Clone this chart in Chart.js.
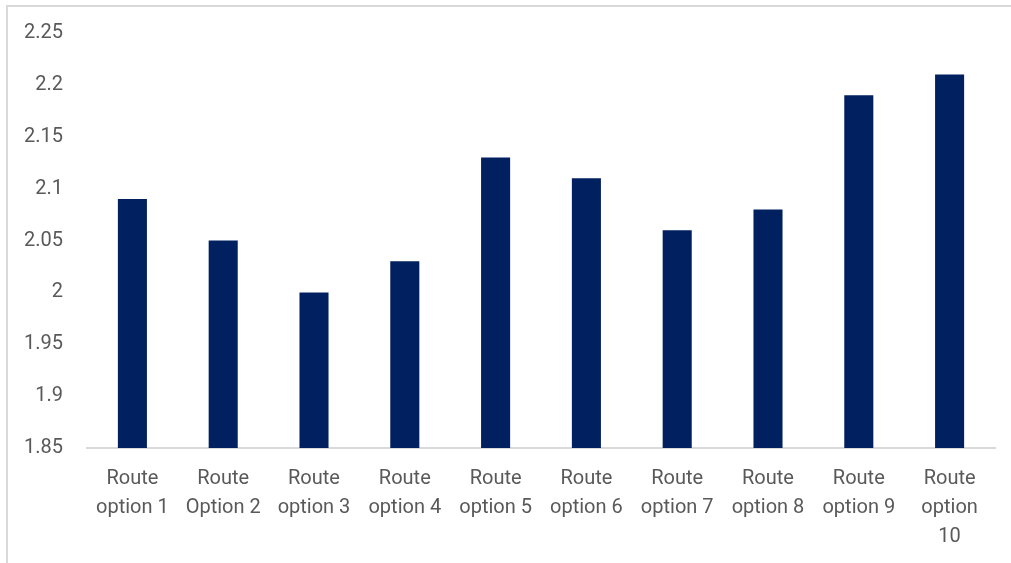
<!DOCTYPE html>
<html><head><meta charset="utf-8">
<script src="https://cdn.jsdelivr.net/npm/chart.js@4/dist/chart.umd.min.js"></script>
<style>
html,body{margin:0;padding:0;background:#fff;overflow:hidden}
#wrap{position:absolute;left:0;top:0;width:1011px;height:563px}
#frame{position:absolute;left:6px;top:5px;width:1100px;height:700px;border-left:2px solid #d9d9d9;border-top:2px solid #d9d9d9;pointer-events:none}
canvas{position:absolute;left:0;top:0}
</style></head>
<body>
<div id="wrap"><div id="frame"></div><canvas id="c" width="1011" height="563"></canvas></div>
<script>
const categories = [
  ["Route","option 1"],["Route","Option 2"],["Route","option 3"],["Route","option 4"],["Route","option 5"],
  ["Route","option 6"],["Route","option 7"],["Route","option 8"],["Route","option 9"],["Route","option","10"]
];
const values = [2.09, 2.05, 2.00, 2.03, 2.13, 2.11, 2.06, 2.08, 2.19, 2.21];
const yMin = 1.85, yMax = 2.25, yStep = 0.05;

const yFont = {family: "Roboto, 'Liberation Sans', sans-serif", size: 20};
const xFont = {family: "Roboto, 'Liberation Sans', sans-serif", size: 20, lineHeight: 1.45};
new Chart(document.getElementById('c'), {
  type: 'bar',
  data: {labels: categories, datasets: [{data: values, backgroundColor: '#002060', barPercentage: 0.32, categoryPercentage: 1}]},
  options: {
    responsive: false, animation: false, devicePixelRatio: 1,
    layout: {padding: {left: 0, right: 16, top: 33, bottom: 0}},
    plugins: {legend: {display: false}, tooltip: {enabled: false}},
    scales: {
      x: {
        grid: {display: false},
        border: {display: true, color: '#d9d9d9', width: 2},
        ticks: {color: '#595959', font: xFont, maxRotation: 0, autoSkip: false, padding: 8},
        afterFit: s => { s.height = 115; }
      },
      y: {
        min: yMin, max: yMax,
        grid: {display: false},
        border: {display: false},
        ticks: {stepSize: yStep, color: '#595959', font: yFont, padding: 16,
          callback: v => parseFloat(v.toFixed(2)).toString()},
        afterFit: s => { s.width = 87; }
      }
    }
  }
});
</script>
</body></html>
